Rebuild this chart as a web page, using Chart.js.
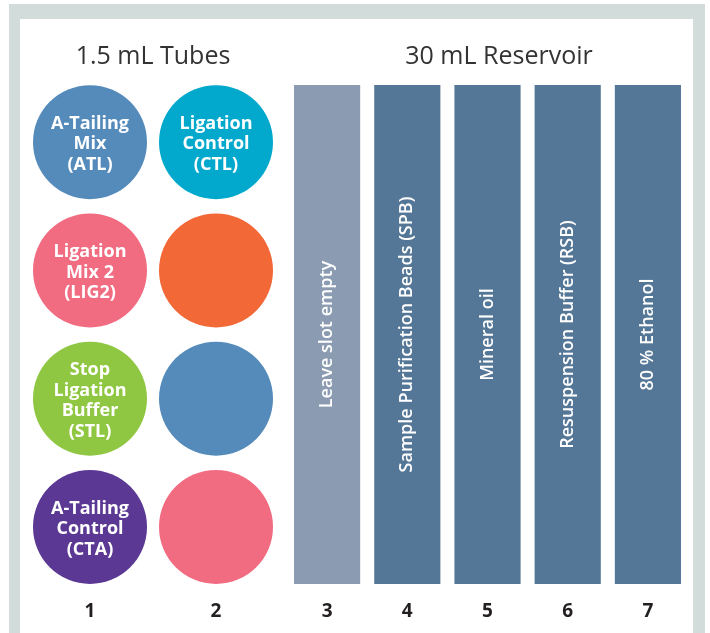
<!DOCTYPE html>
<html>
<head>
<meta charset="utf-8">
<script src="https://cdn.jsdelivr.net/npm/chart.js@4.4.0/dist/chart.umd.min.js"></script>
<style>
  body { margin: 0; background: #fff; }
  #frame { position: absolute; left: 9px; top: 4px; width: 696px; height: 629px; background: #d1dcdb; }
  #inner { position: absolute; left: 20px; top: 19px; width: 673px; height: 614px; background: #fff; }
  #tubes { position: absolute; left: 20px; top: 19px; }
  #reservoir { position: absolute; left: 285px; top: 19px; }
</style>
</head>
<body>
<div id="frame"></div>
<div id="inner"></div>
<canvas id="tubes" width="265" height="614"></canvas>
<canvas id="reservoir" width="426" height="614"></canvas>
<script>
// tube rack (positions 1 and 2)
const tubeColumns = ['1', '2'];
const tubeRows = ['row1', 'row2', 'row3', 'row4'];
const tubeCol = ['1', '2', '1', '2', '1', '2', '1', '2'];
const tubeRow = ['row1', 'row1', 'row2', 'row2', 'row3', 'row3', 'row4', 'row4'];
const tubeLabels = [
    ['A-Tailing', 'Mix', '(ATL)'],
    ['Ligation', 'Control', '(CTL)'],
    ['Ligation', 'Mix 2', '(LIG2)'],
    [],
    ['Stop', 'Ligation', 'Buffer', '(STL)'],
    [],
    ['A-Tailing', 'Control', '(CTA)'],
    []
];
const tubeColors = ['#558bbb', '#03a9cc', '#f16b81', '#f26836', '#8fc742', '#558bbb', '#5b3894', '#f16b81'];

// reservoir (positions 3 to 7)
const reservoirSlots = ['3', '4', '5', '6', '7'];
const reservoirFill = [1, 1, 1, 1, 1];
const reservoirLabels = ['Leave slot empty', 'Sample Purification Beads (SPB)', 'Mineral oil', 'Resuspension Buffer (RSB)', '80 % Ethanol'];
const reservoirColors = ['#8b9cb2', '#557797', '#557797', '#557797', '#557797'];

const FONT = "'Open Sans', 'DejaVu Sans', sans-serif";

const tubeText = {
    id: 'tubeText',
    afterDatasetsDraw(chart) {
        const ctx = chart.ctx;
        const pts = chart.getDatasetMeta(0).data;
        ctx.save();
        ctx.fillStyle = '#ffffff';
        ctx.font = 'bold 18px ' + FONT;
        ctx.textAlign = 'center';
        ctx.textBaseline = 'middle';
        pts.forEach((p, i) => {
            const lines = tubeLabels[i];
            const lh = 20.5;
            const y0 = p.y + 2 - (lines.length - 1) * lh / 2;
            lines.forEach((l, j) => ctx.fillText(l, p.x, y0 + j * lh));
        });
        ctx.restore();
    }
};

const slotText = {
    id: 'slotText',
    afterDatasetsDraw(chart) {
        const ctx = chart.ctx;
        const bars = chart.getDatasetMeta(0).data;
        ctx.save();
        ctx.fillStyle = '#ffffff';
        ctx.font = '600 18px ' + FONT;
        ctx.textAlign = 'center';
        ctx.textBaseline = 'middle';
        bars.forEach((b, i) => {
            ctx.save();
            ctx.translate(b.x, (b.y + b.base) / 2);
            ctx.rotate(-Math.PI / 2);
            ctx.fillText(reservoirLabels[i], 0, 0);
            ctx.restore();
        });
        ctx.restore();
    }
};

const tickFont = { family: FONT, size: 19, weight: 'bold' };
const titleFont = { family: FONT, size: 25, weight: '400' };

new Chart(document.getElementById('tubes'), {
    type: 'bubble',
    data: {
        datasets: [{
            data: tubeCol.map((c, i) => ({ x: c, y: tubeRow[i] })),
            backgroundColor: tubeColors,
            borderWidth: 0,
            radius: 57,
            hoverRadius: 0
        }]
    },
    options: {
        responsive: false,
        animation: false,
        events: [],
        layout: { autoPadding: false, padding: { left: 7, right: 6 } },
        plugins: {
            legend: { display: false },
            tooltip: { enabled: false },
            title: {
                display: true,
                text: '1.5 mL Tubes',
                color: '#333333',
                font: titleFont,
                padding: { top: 23, bottom: 6 }
            }
        },
        scales: {
            x: {
                type: 'category',
                labels: tubeColumns,
                offset: true,
                grid: { display: false, drawTicks: false },
                border: { display: false },
                ticks: { color: '#231f20', font: tickFont, padding: 9 },
                afterFit: a => { a.height = 42; }
            },
            y: {
                type: 'category',
                labels: tubeRows,
                offset: true,
                display: false
            }
        }
    },
    plugins: [tubeText]
});

new Chart(document.getElementById('reservoir'), {
    type: 'bar',
    data: {
        labels: reservoirSlots,
        datasets: [{
            data: reservoirFill,
            backgroundColor: reservoirColors,
            borderWidth: 0,
            barPercentage: 0.825,
            categoryPercentage: 1
        }]
    },
    options: {
        responsive: false,
        animation: false,
        events: [],
        layout: { padding: { left: 2 } },
        plugins: {
            legend: { display: false },
            tooltip: { enabled: false },
            title: {
                display: true,
                text: '30 mL Reservoir',
                color: '#333333',
                font: titleFont,
                padding: { top: 23, bottom: 13 }
            }
        },
        scales: {
            x: {
                grid: { display: false, drawTicks: false },
                border: { display: false },
                ticks: { color: '#231f20', font: tickFont, padding: 16 },
                afterFit: a => { a.height = 49; }
            },
            y: {
                position: 'right',
                min: 0,
                max: 1,
                grid: { display: false, drawTicks: false },
                border: { display: false },
                ticks: { display: false },
                afterFit: a => { a.width = 23; }
            }
        }
    },
    plugins: [slotText]
});
</script>
</body>
</html>
